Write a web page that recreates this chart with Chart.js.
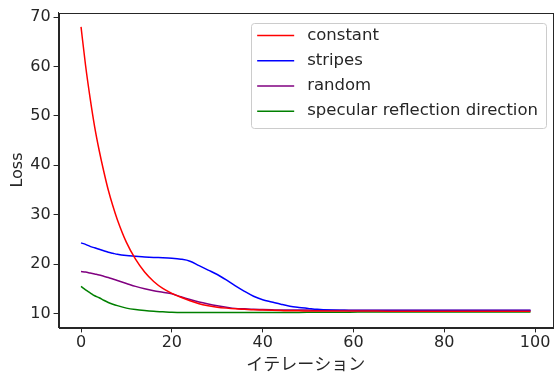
<!DOCTYPE html>
<html>
<head>
<meta charset="utf-8">
<script src="https://cdn.jsdelivr.net/npm/chart.js@4.4.1/dist/chart.umd.min.js"></script>
<style>
  html, body { margin: 0; padding: 0; background: #fff; }
  #wrap { width: 554px; height: 376px; }
</style>
</head>
<body>
<div id="wrap"><canvas id="lossChart" width="554" height="376"></canvas></div>
<script>
// --- data ---
const iters = [0, 1, 2, 3, 4, 5, 6, 7, 8, 10, 12, 14, 16, 18, 20, 22, 24, 26, 28, 30,
  32, 34, 36, 38, 40, 42, 44, 46, 48, 50, 52, 55, 58, 61, 65, 70, 75, 80, 85, 90, 95, 99];

const constantLoss = [68.0, 60.2, 53.6, 47.8, 43.0, 38.8, 35.0, 31.8, 29.0, 24.4, 21.0, 18.4, 16.5, 15.1, 14.1, 13.3, 12.6, 12.0, 11.6, 11.3,
  11.1, 10.95, 10.85, 10.75, 10.7, 10.65, 10.6, 10.55, 10.55, 10.5, 10.5, 10.5, 10.5, 10.5, 10.5, 10.45, 10.45, 10.45, 10.45, 10.45, 10.45, 10.45];

const stripesLoss = [24.3, 24.0, 23.6, 23.3, 23.0, 22.7, 22.4, 22.2, 22.0, 21.75, 21.6, 21.45, 21.35, 21.3, 21.2, 21.0, 20.6, 19.7, 18.8, 17.9,
  16.8, 15.6, 14.5, 13.5, 12.8, 12.35, 11.9, 11.5, 11.25, 11.05, 10.85, 10.7, 10.65, 10.6, 10.6, 10.6, 10.6, 10.6, 10.6, 10.6, 10.6, 10.6];

const randomLoss = [18.5, 18.4, 18.2, 18.0, 17.8, 17.55, 17.3, 17.0, 16.7, 16.1, 15.5, 15.0, 14.6, 14.3, 14.0, 13.4, 12.85, 12.35, 11.95, 11.6,
  11.3, 11.05, 10.95, 10.85, 10.8, 10.75, 10.7, 10.7, 10.7, 10.7, 10.65, 10.65, 10.65, 10.65, 10.65, 10.65, 10.65, 10.65, 10.65, 10.65, 10.65, 10.65];

const specularLoss = [15.5, 14.8, 14.2, 13.6, 13.2, 12.7, 12.25, 11.9, 11.6, 11.1, 10.8, 10.6, 10.45, 10.35, 10.25, 10.2, 10.2, 10.2, 10.2, 10.2,
  10.2, 10.2, 10.2, 10.2, 10.2, 10.2, 10.22, 10.22, 10.24, 10.25, 10.26, 10.27, 10.28, 10.3, 10.3, 10.3, 10.3, 10.3, 10.3, 10.3, 10.3, 10.3];

const seriesNames = ['constant', 'stripes', 'random', 'specular reflection direction'];
const seriesColors = ['#ff0000', '#0000ff', '#800080', '#008000'];
const seriesValues = [constantLoss, stripesLoss, randomLoss, specularLoss];

const xTicks = [0, 20, 40, 60, 80, 100];
const yTicks = [10, 20, 30, 40, 50, 60, 70];

const FONT = "'DejaVu Sans', sans-serif";
const JP_FONT = "'Noto Sans CJK JP', sans-serif";
const INK = '#262626';

// matplotlib-like frame around the plot area
const framePlugin = {
  id: 'frame',
  afterDraw(chart) {
    const { ctx, chartArea: a } = chart;
    ctx.save();
    ctx.strokeStyle = INK;
    ctx.lineWidth = 1;
    ctx.strokeRect(Math.round(a.left) + 0.5, Math.round(a.top) + 0.5,
      Math.round(a.right - a.left), Math.round(a.bottom - a.top));
    ctx.restore();
  }
};

// legend box in the upper right corner of the plot area
const legendBoxPlugin = {
  id: 'legendBox',
  afterDraw(chart) {
    const { ctx, chartArea: a } = chart;
    ctx.save();
    ctx.font = `16.5px ${FONT}`;
    const textW = Math.max(...seriesNames.map(n => ctx.measureText(n).width));
    const w = 56 + textW + 8;
    const h = 105;
    const right = a.right - 7;
    const left = right - w;
    const top = a.top + 10;

    ctx.fillStyle = 'rgba(255,255,255,0.8)';
    ctx.strokeStyle = '#cccccc';
    ctx.lineWidth = 1;
    ctx.beginPath();
    ctx.roundRect(Math.round(left) + 0.5, Math.round(top) + 0.5, Math.round(w), h, 3);
    ctx.fill();
    ctx.stroke();

    chart.data.datasets.forEach((ds, i) => {
      const y = top + 13 + i * 25.2;
      ctx.strokeStyle = ds.borderColor;
      ctx.lineWidth = 1.5;
      ctx.beginPath();
      ctx.moveTo(left + 6, y);
      ctx.lineTo(left + 43, y);
      ctx.stroke();
      ctx.fillStyle = INK;
      ctx.textAlign = 'left';
      ctx.textBaseline = 'middle';
      ctx.fillText(ds.label, left + 56, y);
    });
    ctx.restore();
  }
};

const ctx = document.getElementById('lossChart').getContext('2d');

new Chart(ctx, {
  type: 'line',
  data: {
    datasets: seriesNames.map((name, i) => ({
      label: name,
      data: iters.map((x, j) => ({ x, y: seriesValues[i][j] })),
      borderColor: seriesColors[i],
      backgroundColor: seriesColors[i],
      borderWidth: 1.5,
      pointRadius: 0,
      cubicInterpolationMode: 'monotone',
      fill: false,
    })),
  },
  options: {
    responsive: false,
    animation: false,
    events: [],
    layout: { padding: { top: 11, right: 1, left: 8, bottom: 2 } },
    plugins: {
      legend: { display: false },
      tooltip: { enabled: false },
    },
    scales: {
      x: {
        type: 'linear',
        min: -4.95,
        max: 103.95,
        afterBuildTicks: s => { s.ticks = xTicks.map(v => ({ value: v })); },
        ticks: { color: INK, font: { family: FONT, size: 16 }, padding: 1, maxRotation: 0 },
        grid: { display: true, drawOnChartArea: false, drawTicks: true, tickLength: 5, color: INK },
        border: { display: true, color: INK },
        title: { display: true, text: 'イテレーション', color: INK, font: { family: JP_FONT, size: 17 }, padding: { top: 0, bottom: 0 } },
      },
      y: {
        type: 'linear',
        min: 7.2,
        max: 70.9,
        afterBuildTicks: s => { s.ticks = yTicks.map(v => ({ value: v })); },
        ticks: { color: INK, font: { family: FONT, size: 16 }, padding: 3 },
        grid: { display: true, drawOnChartArea: false, drawTicks: true, tickLength: 5, color: INK },
        border: { display: true, color: INK },
        title: { display: true, text: 'Loss', color: INK, font: { family: FONT, size: 16 }, padding: { top: 0, bottom: 0 } },
      },
    },
  },
  plugins: [framePlugin, legendBoxPlugin],
});
</script>
</body>
</html>
